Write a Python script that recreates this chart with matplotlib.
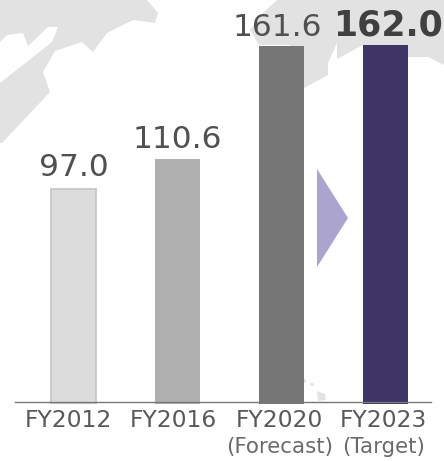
import matplotlib
matplotlib.use('Agg')
import matplotlib.pyplot as plt
from matplotlib.patches import Polygon

W, H = 444, 461

# values
categories = ['FY2012', 'FY2016', 'FY2020', 'FY2023']
sublabels = ['', '', '(Forecast)', '(Target)']
values = [97.0, 110.6, 161.6, 162.0]
value_labels = ['97.0', '110.6', '161.6', '162.0']

# styling
bar_colors = ['#dcdcdc', '#b0b0b0', '#767676', '#3e3565']
edge_colors = ['#c4c4c4', 'none', 'none', 'none']
value_dx = [0.5, 0.5, -3.5, 2.5]
value_gap = [13, 11, 10, 10]
cat_dx = [-4.5, -4, -2, -1.5]
PT = 0.72  # points per pixel at dpi 100

# background map outline, pixels from top left
map_left = [(0, 0), (147, 0), (158, 13), (155, 23), (133, 20), (107, 33), (93, 52), (82, 42),
            (55, 51), (43, 72), (50, 92), (2, 143), (0, 143), (0, 83), (52, 42), (58, 27), (48, 27),
            (28, 46), (23, 33), (7, 35), (0, 42)]
map_right = [(277, 0), (263, 13), (250, 30), (259, 45), (290, 45), (304, 88), (328, 75), (328, 63),
             (337, 43), (337, 59), (363, 45), (408, 57), (428, 57), (444, 65), (444, 0)]
map_specks = [[(304, 379), (306, 380), (306, 383), (304, 382)],
              [(310, 383), (313, 383), (314, 386), (311, 386)],
              [(317, 391), (325, 394), (326, 400), (318, 401)]]
arrow = [(317, 169), (348, 218), (317, 267)]

fig = plt.figure(figsize=(W / 100, H / 100), dpi=100)

bg = fig.add_axes([0, 0, 1, 1])
bg.set_xlim(0, W)
bg.set_ylim(H, 0)
bg.axis('off')
for shape in [map_left, map_right] + map_specks:
    bg.add_patch(Polygon(shape, closed=True, fc='#e2e2e2', ec='none'))
bg.add_patch(Polygon(arrow, closed=True, fc='#aba4cf', ec='none'))

# bar axes: x spacing 104 px, first bar centred at 73 px, zero line at y=404 px
ax = fig.add_axes([21.2 / W, (H - 404) / H, 416 / W, 404 / H])
ax.patch.set_alpha(0)
ax.set_xlim(-0.5, 3.5)
ax.set_ylim(0, 404 / 2.216)
ax.axis('off')

xs = list(range(len(values)))
ax.bar(xs, values, width=0.433, color=bar_colors, edgecolor=edge_colors, linewidth=1.2)

for i, lab in enumerate(value_labels):
    bold = lab == '162.0'
    ax.annotate(lab, (xs[i], values[i]), xytext=(value_dx[i] * PT, value_gap[i] * PT),
                textcoords='offset points', ha='center', va='baseline', annotation_clip=False,
                fontsize=25 if bold else 22.5, fontweight='bold' if bold else 'normal',
                color='#404040' if bold else '#505050')

# axis line
fig.add_artist(plt.Line2D([15 / W, 431 / W], [(H - 401.5) / H] * 2, color='#777777', lw=1))

for i, cat in enumerate(categories):
    ax.annotate(cat, (xs[i], 0), xytext=(cat_dx[i] * PT, -23 * PT), textcoords='offset points',
                ha='center', va='baseline', annotation_clip=False, fontsize=16.8, color='#595959')
    if sublabels[i]:
        ax.annotate(sublabels[i], (xs[i], 0), xytext=(cat_dx[i] * PT, -48.5 * PT),
                    textcoords='offset points', ha='center', va='baseline', annotation_clip=False,
                    fontsize=15.4, color='#6a6a6a')

fig.savefig('out.png', dpi=100)
